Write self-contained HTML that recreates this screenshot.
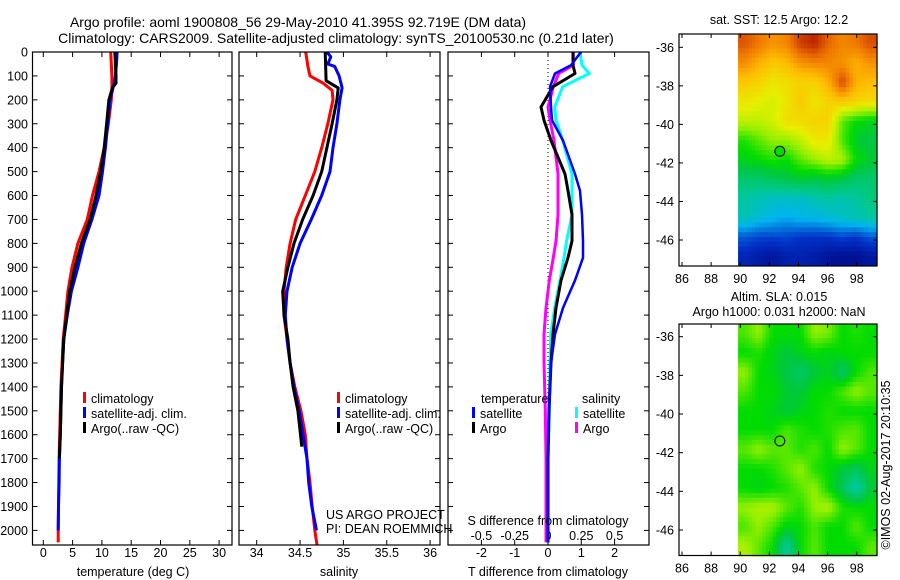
<!DOCTYPE html>
<html><head><meta charset="utf-8"><style>
html,body{margin:0;padding:0;background:#fff}
svg{display:block;font-family:"Liberation Sans",sans-serif}
</style></head><body>
<svg id="fig" width="900" height="580" viewBox="0 0 900 580" xmlns="http://www.w3.org/2000/svg">
<rect width="900" height="580" fill="#fff"/>
<text x="298" y="27" font-size="14" text-anchor="middle">Argo profile: aoml 1900808_56 29-May-2010 41.395S 92.719E (DM data)</text>
<text x="336" y="43" font-size="14" text-anchor="middle">Climatology: CARS2009. Satellite-adjusted climatology: synTS_20100530.nc (0.21d later)</text>
<g id="g"></g>
</svg>
<script>
// ---------- data ----------
const tDepths = [0,50,100,130,150,200,300,400,500,600,700,800,900,1000,1100,1200,1300,1400,1500,1600,1700,1800,1900,2000,2050];
const tClim = [11.5,11.6,11.7,11.7,11.7,11.6,11.1,10.4,9.5,8.4,7.5,5.9,4.9,4.2,3.8,3.4,3.2,3.0,2.9,2.8,2.7,2.65,2.6,2.55,2.55];
const tSat = [12.6,12.5,12.3,12.1,11.9,11.4,11.0,10.6,10.1,9.5,8.3,6.9,5.9,4.8,4.1,3.5,3.3,3.1,3.0,2.9,2.75,2.7,2.6,2.55];
const tArgo = [12.2,12.3,12.4,12.4,11.8,11.2,10.8,10.4,9.8,9.0,8.0,6.5,5.4,4.5,4.0,3.5,3.3,3.1,3.0,2.9,2.75];
const sDepthsClim = [0,60,100,130,160,200,300,400,500,600,700,800,900,1000,1100,1200,1300,1400,1500,1600,1700,1800,1900,2000,2060];
const sClim = [34.565,34.59,34.615,34.765,34.87,34.88,34.82,34.75,34.67,34.56,34.45,34.385,34.34,34.315,34.315,34.35,34.385,34.44,34.51,34.56,34.58,34.615,34.64,34.67,34.695];
const sDepthsArgo = [0,120,150,200,300,400,500,600,700,800,900,1000,1100,1200,1300,1400,1500,1650];
const sArgo = [34.79,34.80,34.94,34.925,34.87,34.81,34.75,34.65,34.53,34.43,34.36,34.30,34.315,34.36,34.385,34.42,34.475,34.52];
const sDepthsSat = [0,20,50,60,100,150,200,300,400,500,600,700,800,900,1000,1100,1200,1300,1400,1500,1600,1700,1800,1900,2000];
const sSat = [34.81,34.855,34.82,34.90,34.95,34.985,34.96,34.925,34.88,34.845,34.75,34.63,34.50,34.41,34.35,34.33,34.35,34.385,34.43,34.49,34.535,34.58,34.60,34.635,34.69];
const dDepths = [0,55,90,145,230,285,370,510,580,680,790,860,955,1070,1180,1300,1500,1700,2050];
const tDiffSat = [0.99,0.69,0.21,0.06,0.09,0.12,0.45,0.81,0.96,1.02,1.05,1.05,0.81,0.45,0.21,0.09,0.03,0,0];
const tDiffArgo = [0.75,0.75,0.81,0.15,-0.21,-0.12,0.09,0.51,0.6,0.72,0.72,0.6,0.39,0.24,0.15,0.09,0.03,0,0];
const sDiffSat = [0.24,0.255,0.31,0.11,0.05,0.06,0.11,0.18,0.18,0.18,0.14,0.12,0.09,0.05,0.02,0.015,0.01,0,0];
const sDiffArgo = [0.19,0.19,0.08,0.04,0,0.015,0.045,0.075,0.075,0.075,0.06,0.04,0.01,-0.015,-0.03,-0.03,-0.02,-0.015,-0.015];
const depthTicks = [0,100,200,300,400,500,600,700,800,900,1000,1100,1200,1300,1400,1500,1600,1700,1800,1900,2000];
const tempTicks = [0,5,10,15,20,25,30];
const salTicks = [34,34.5,35,35.5,36];
const tdTicks = [-2,-1,0,1,2];
const sdTicks = [-0.5,-0.25,0,0.25,0.5];
const lonTicks = [86,88,90,92,94,96,98];
const latTicks = [-36,-38,-40,-42,-44,-46];
const sstGrid = [
[0.92,0.88,0.84,0.86,0.95,0.98,0.9,0.86,0.88,0.93],
[0.85,0.8,0.76,0.78,0.84,0.86,0.86,0.84,0.8,0.84],
[0.76,0.74,0.7,0.72,0.74,0.74,0.8,0.94,0.8,0.78],
[0.7,0.68,0.66,0.7,0.76,0.7,0.74,0.76,0.74,0.72],
[0.64,0.64,0.66,0.72,0.72,0.74,0.74,0.56,0.5,0.48],
[0.52,0.56,0.6,0.6,0.64,0.7,0.7,0.55,0.46,0.44],
[0.48,0.5,0.52,0.5,0.56,0.6,0.64,0.62,0.5,0.46],
[0.4,0.4,0.42,0.44,0.46,0.44,0.46,0.44,0.4,0.4],
[0.34,0.32,0.3,0.3,0.3,0.32,0.34,0.32,0.34,0.38],
[0.32,0.28,0.26,0.24,0.26,0.26,0.28,0.3,0.32,0.34],
[0.16,0.14,0.14,0.14,0.12,0.12,0.12,0.14,0.12,0.16],
[0.09,0.07,0.05,0.08,0.08,0.07,0.05,0.04,0.04,0.06]];
const slaGrid = [
[0.55,0.6,0.5,0.5,0.5,0.6,0.58,0.5,0.52,0.5],
[0.5,0.52,0.48,0.45,0.48,0.5,0.48,0.5,0.5,0.5],
[0.6,0.5,0.48,0.44,0.4,0.45,0.48,0.4,0.5,0.55],
[0.55,0.5,0.5,0.46,0.45,0.5,0.5,0.55,0.6,0.56],
[0.5,0.5,0.48,0.45,0.48,0.5,0.52,0.5,0.5,0.5],
[0.5,0.5,0.5,0.55,0.52,0.5,0.52,0.55,0.56,0.5],
[0.56,0.6,0.56,0.56,0.52,0.55,0.5,0.6,0.56,0.5],
[0.5,0.5,0.52,0.56,0.6,0.52,0.5,0.45,0.42,0.48],
[0.5,0.48,0.5,0.52,0.56,0.6,0.5,0.42,0.32,0.45],
[0.6,0.62,0.62,0.56,0.52,0.6,0.62,0.52,0.5,0.5],
[0.55,0.6,0.55,0.48,0.5,0.55,0.5,0.5,0.56,0.5],
[0.62,0.56,0.5,0.34,0.5,0.56,0.5,0.5,0.5,0.56]];
const argoLon = 92.719, argoLat = -41.395;

// ---------- helpers ----------
const NS="http://www.w3.org/2000/svg";
const G=document.getElementById('g');
function mk(tag,attrs,parent){const e=document.createElementNS(NS,tag);for(const k in attrs)e.setAttribute(k,attrs[k]);(parent||G).appendChild(e);return e;}
function txt(x,y,s,anchor,size,name){const t=mk('text',{x:x,y:y,'font-size':size||12.5,'text-anchor':anchor||'start'});t.textContent=s;


return t;}
const yD = d => 52 + d*0.2392;
const xT = v => 43.3 + v*5.86;
const xS = v => 256.7 + (v-34)*86.7;
const xTd = v => 548 + v*33.3;
const xSd = v => 548 + v*133.2;

function box(x0,y0,x1,y1,name){const r=mk('rect',{x:x0,y:y0,width:x1-x0,height:y1-y0,fill:'none',stroke:'#000','stroke-width':1.2});

}
function line(xs,ds,xf,color,name,w){
  let p='';for(let i=0;i<xs.length;i++){p+=(i?'L':'M')+xf(xs[i]).toFixed(1)+','+yD(ds[i]).toFixed(1);}
  const e=mk('path',{d:p,fill:'none',stroke:color,'stroke-width':w||3,'stroke-linejoin':'round'});
  
  
}
function xTicksFn(ticks,xf,y0,y1,labY,fmt,name){
  ticks.forEach(v=>{const x=xf(v);mk('line',{x1:x,y1:y1,x2:x,y2:y1-5,stroke:'#000'});mk('line',{x1:x,y1:y0,x2:x,y2:y0+5,stroke:'#000'});
  if(labY) txt(x,labY,fmt?fmt(v):String(v),'middle',12.5,name);});
}
function depthTicksFn(x0,x1,labels){
  depthTicks.forEach(d=>{const y=yD(d);mk('line',{x1:x0,y1:y,x2:x0+5,y2:y,stroke:'#000'});mk('line',{x1:x1,y1:y,x2:x1-5,y2:y,stroke:'#000'});
  if(labels) txt(28,y+4.5,String(d),'end',12.5,'depth-tick-label');});
}
function legendEntry(x,y,color,label,name){
  const r=mk('rect',{x:x,y:y-6,width:3,height:11,fill:color});
  
  
  txt(x+8,y+5,label,'start',12.5,name);
}

// ---------- panel 1 ----------
const P1={x0:32.5,x1:232,y0:52,y1:545};
depthTicksFn(P1.x0,P1.x1,true);
xTicksFn(tempTicks,xT,P1.y0,P1.y1,557,null,'temperature-tick-label');
line(tClim,tDepths,xT,'#f00','temp-climatology-line');
line(tSat,tDepths.slice(0,tSat.length),xT,'#00f','temp-satellite-line');
line(tArgo,tDepths.slice(0,tArgo.length),xT,'#000','temp-argo-line');
box(P1.x0,P1.y0,P1.x1,P1.y1,'temperature-panel');
txt(133,576,'temperature (deg C)','middle',12.5,'temperature-axis-title');
legendEntry(83,398,'#f00','climatology','legend-climatology');
legendEntry(83,413,'#00f','satellite-adj. clim.','legend-satellite');
legendEntry(83,428,'#000','Argo(..raw -QC)','legend-argo');

// ---------- panel 2 ----------
const P2={x0:239,x1:440,y0:52,y1:545};
depthTicksFn(P2.x0,P2.x1,false);
xTicksFn(salTicks,xS,P2.y0,P2.y1,557,null,'salinity-tick-label');
line(sClim,sDepthsClim,xS,'#f00','sal-climatology-line');
line(sSat,sDepthsSat,xS,'#00f','sal-satellite-line');
line(sArgo,sDepthsArgo,xS,'#000','sal-argo-line');
box(P2.x0,P2.y0,P2.x1,P2.y1,'salinity-panel');
txt(339,576,'salinity','middle',12.5,'salinity-axis-title');
legendEntry(337,398,'#f00','climatology','legend2-climatology');
legendEntry(337,413,'#00f','satellite-adj. clim.','legend2-satellite');
legendEntry(337,428,'#000','Argo(..raw -QC)','legend2-argo');
txt(326,519,'US ARGO PROJECT','start',12.5,'project-label');
txt(326,533,'PI: DEAN ROEMMICH','start',12.5,'pi-label');

// ---------- panel 3 ----------
const P3={x0:448,x1:649,y0:52,y1:545};
depthTicksFn(P3.x0,P3.x1,false);
xTicksFn(tdTicks,xTd,P3.y0,P3.y1,557,null,'tdiff-tick-label');
sdTicks.forEach(v=>txt(xSd(v),540,String(v),'middle',12.5,'sdiff-tick-label'));
mk('line',{x1:xTd(0),y1:P3.y0,x2:xTd(0),y2:P3.y1,stroke:'#000','stroke-width':1,'stroke-dasharray':'1,3'});
line(sDiffArgo,dDepths,xSd,'#f0f','sdiff-argo-line');
line(sDiffSat,dDepths,xSd,'#0ff','sdiff-satellite-line');
line(tDiffArgo,dDepths,xTd,'#000','tdiff-argo-line');
line(tDiffSat,dDepths,xTd,'#00f','tdiff-satellite-line',2.5);
box(P3.x0,P3.y0,P3.x1,P3.y1,'difference-panel');
txt(548,525,'S difference from climatology','middle',12.5,'sdiff-axis-title');
txt(548,576,'T difference from climatology','middle',12.5,'tdiff-axis-title');
txt(481,403,'temperature','start',12.5,'legend3-temperature-header');
legendEntry(472,413,'#00f','satellite','legend3-t-satellite');
legendEntry(472,428,'#000','Argo','legend3-t-argo');
txt(582,403,'salinity','start',12.5,'legend3-salinity-header');
legendEntry(575,413,'#0ff','satellite','legend3-s-satellite');
legendEntry(575,428,'#f0f','Argo','legend3-s-argo');

// ---------- maps ----------
const stops=[[0,[0,0,120]],[0.12,[0,50,200]],[0.25,[0,180,240]],[0.35,[0,200,150]],[0.45,[0,200,60]],[0.5,[0,220,0]],[0.6,[150,240,0]],[0.68,[230,240,0]],[0.78,[255,190,0]],[0.88,[240,120,0]],[1,[180,20,0]]];
function cmap(v){v=Math.max(0,Math.min(1,v));for(let i=1;i<stops.length;i++){if(v<=stops[i][0]){const a=stops[i-1],b=stops[i];const t=(v-a[0])/(b[0]-a[0]);const c=a[1].map((c0,k)=>Math.round(c0+(b[1][k]-c0)*t));return 'rgb('+c.join(',')+')';}}return 'rgb(180,20,0)';}
function sample(grid,fr,fc){
  const R=grid.length,C=grid[0].length;
  fr=Math.max(0,Math.min(R-1,fr));fc=Math.max(0,Math.min(C-1,fc));
  const r0=Math.floor(fr),c0=Math.floor(fc),r1=Math.min(R-1,r0+1),c1=Math.min(C-1,c0+1);
  const a=fr-r0,b=fc-c0;
  return grid[r0][c0]*(1-a)*(1-b)+grid[r0][c1]*(1-a)*b+grid[r1][c0]*a*(1-b)+grid[r1][c1]*a*b;
}
function drawMap(M,grid,name,fillMarker){
  const xL=lon=>682+(lon-86)*14.56;
  const yL=lat=>M.latRef+(-36-lat)*M.ppd;
  const lon0=89.85, lon1=99.4, lat0=M.latTop, lat1=M.latBot;
  const rows=grid.length, cols=grid[0].length, sub=4;
  const nr=rows*sub, nc=cols*sub;
  const dlon=(lon1-lon0)/nc, dlat=(lat0-lat1)/nr;
  for(let r=0;r<nr;r++)for(let c=0;c<nc;c++){
    const v=sample(grid,(r+0.5)/sub-0.5,(c+0.5)/sub-0.5);
    const xa=xL(lon0+c*dlon), xb=xL(lon0+(c+1)*dlon), ya=yL(lat0-r*dlat), yb=yL(lat0-(r+1)*dlat);
    const e=mk('rect',{x:xa.toFixed(2),y:ya.toFixed(2),width:(xb-xa+0.5).toFixed(2),height:(yb-ya+0.5).toFixed(2),fill:cmap(v)});
    
    
  }
  lonTicks.forEach(l=>{const x=xL(l);mk('line',{x1:x,y1:M.y1,x2:x,y2:M.y1-4,stroke:'#000'});mk('line',{x1:x,y1:M.y0,x2:x,y2:M.y0+4,stroke:'#000'});
    txt(x,M.y1+17,String(l),'middle',12.5,name+'-lon-label');});
  latTicks.forEach(l=>{const y=yL(l);mk('line',{x1:M.x0,y1:y,x2:M.x0+4,y2:y,stroke:'#000'});mk('line',{x1:M.x1,y1:y,x2:M.x1-4,y2:y,stroke:'#000'});
    txt(M.x0-5,y+4.5,String(l),'end',12.5,name+'-lat-label');});
  const c=mk('circle',{cx:xL(argoLon),cy:yL(argoLat),r:5,fill:fillMarker?cmap(0.5):'none',stroke:'#000','stroke-width':1});
  
  
  box(M.x0,M.y0,M.x1,M.y1,name);
}
drawMap({x0:679,x1:877,y0:34,y1:266,latRef:47.3,ppd:19.27,latTop:-35.31,latBot:-47.35},sstGrid,'sst-map',true);
drawMap({x0:679,x1:877,y0:324,y1:555.5,latRef:336.7,ppd:19.33,latTop:-35.33,latBot:-47.34},slaGrid,'sla-map',false);
txt(779,24,'sat. SST: 12.5 Argo: 12.2','middle',12.5,'sst-map-title');
txt(779,301,'Altim. SLA: 0.015','middle',12.5,'sla-map-title-1');
txt(779,316,'Argo h1000: 0.031 h2000: NaN','middle',12.5,'sla-map-title-2');
const cr=txt(0,0,'©IMOS 02-Aug-2017 20:10:35','middle',12.5,'credit-label');
cr.setAttribute('transform','translate(890,465) rotate(-90)');
</script>
</body></html>
